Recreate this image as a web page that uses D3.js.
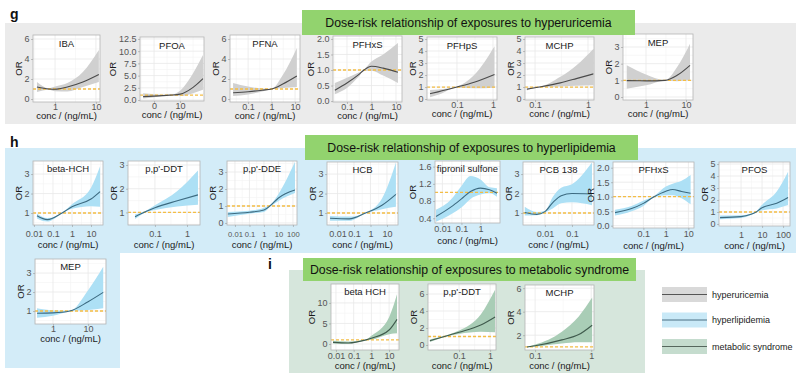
<!DOCTYPE html>
<html>
<head>
<meta charset="utf-8">
<script src="https://cdn.jsdelivr.net/npm/d3@7"></script>
<style>
  body { margin: 0; background: #fff; }
  text { font-family: "Liberation Sans", Arial, sans-serif; }
</style>
</head>
<body>
<svg id="chart" width="800" height="382"></svg>
<script>
// rows are [conc, OR, lower CI, upper CI]
// hyperuricemia
const uIBA = [[0.36, 1.2, 0.7, 1.7], [0.7, 1.0, 0.92, 1.08], [1, 0.97, 0.78, 1.25], [2, 1.2, 0.75, 1.6], [4.8, 1.7, 1.2, 2.7], [11.8, 2.45, 1.7, 4.9]];
const uPFOA = [[-4.2, 0.7, 0.3, 1.4], [0, 0.8, 0.55, 1.2], [6, 1.0, 0.97, 1.03], [10, 1.2, 0.8, 1.9], [15, 2.6, 1.4, 5.5], [18.8, 4.4, 2.1, 9.2]];
const uPFNA = [[0.023, 0.63, 0.3, 1.6], [0.1, 0.73, 0.45, 1.25], [0.4, 0.88, 0.75, 1.05], [1, 1.0, 0.97, 1.03], [3, 1.5, 1.1, 2.4], [11.9, 2.3, 1.2, 5.1]];
const uPFHxS = [[0.032, 0.35, 0.22, 0.58], [0.1, 0.58, 0.42, 0.75], [0.3, 0.85, 0.78, 0.92], [0.5, 1.0, 0.98, 1.02], [1, 1.12, 0.98, 1.27], [3, 1.06, 0.82, 1.5], [12, 0.93, 0.58, 1.87]];
const uPFHpS = [[0.018, 0.45, 0.15, 0.75], [0.03, 0.6, 0.35, 0.8], [0.1, 1.0, 0.95, 1.05], [0.3, 1.4, 0.9, 2.0], [1.1, 2.05, 0.95, 4.4]];
const uMCHP = [[0.07, 0.82, 0.72, 0.93], [0.12, 1.0, 0.98, 1.02], [0.3, 1.35, 1.05, 1.85], [0.6, 1.7, 1.1, 2.8], [1.27, 2.1, 1.15, 4.2]];
const uMEP = [[0.33, 0.98, 0.5, 1.9], [1, 0.97, 0.7, 1.35], [3, 1.0, 0.98, 1.02], [6, 1.3, 0.95, 1.8], [12.6, 1.9, 1.0, 3.2]];

// hyperlipidemia
const lBetaHCH = [[0.0144, 0.86, 0.72, 0.98], [0.05, 0.66, 0.56, 0.74], [0.3, 1.0, 0.98, 1.02], [1, 1.32, 1.22, 1.45], [10, 1.72, 1.35, 2.3], [30, 2.1, 1.32, 3.4]];
const lDDT = [[0.024, 0.82, 0.72, 0.92], [0.05, 1.03, 1.0, 1.06], [0.1, 1.2, 1.1, 1.3], [0.5, 1.49, 1.25, 1.9], [2.2, 1.74, 1.32, 2.77]];
const lDDE = [[0.0032, 0.53, 0.35, 0.65], [0.1, 0.63, 0.55, 0.72], [1, 0.76, 0.65, 0.9], [3, 1.05, 1.0, 1.1], [10, 1.47, 1.3, 1.7], [138, 1.94, 1.76, 3.6]];
const lHCB = [[0.0035, 0.73, 0.6, 0.85], [0.05, 0.7, 0.6, 0.82], [0.5, 1.0, 0.98, 1.02], [5, 1.4, 1.2, 1.75], [35, 1.96, 1.32, 3.6]];
const lFipronil = [[0.0046, 0.44, 0.32, 0.6], [0.03, 0.67, 0.5, 0.85], [0.1, 0.85, 0.65, 1.15], [0.3, 1.02, 0.85, 1.38], [1, 1.1, 0.95, 1.3], [3, 1.06, 0.98, 1.12], [7.4, 0.98, 0.9, 1.1]];
const lPCB138 = [[0.0018, 1.03, 0.87, 1.32], [0.005, 0.93, 0.88, 1.05], [0.01, 1.07, 1.03, 1.1], [0.02, 1.55, 1.25, 1.85], [0.04, 1.89, 1.5, 2.3], [0.1, 2.0, 1.55, 2.48], [0.55, 1.98, 1.4, 3.6]];
const lPFHxS = [[0.0055, 0.45, 0.35, 0.55], [0.03, 0.59, 0.5, 0.68], [0.1, 0.77, 0.68, 0.86], [0.3, 1.0, 0.98, 1.02], [1, 1.19, 1.05, 1.35], [2, 1.25, 1.05, 1.45], [5, 1.18, 0.95, 1.55], [12.6, 1.12, 0.74, 1.75]];
const lPFOS = [[0.1, 0.53, 0.4, 0.7], [1, 0.61, 0.5, 0.72], [3, 0.81, 0.75, 0.88], [5, 0.98, 0.95, 1.02], [10, 1.36, 1.15, 1.6], [50, 1.72, 1.3, 2.7], [173, 2.2, 1.58, 4.35]];
const lMEP = [[0.35, 0.88, 0.65, 1.14], [1, 0.9, 0.75, 1.03], [3, 1.0, 0.98, 1.02], [10, 1.49, 1.05, 2.1], [27, 1.98, 1.14, 3.33]];

// metabolic syndrome
const mBetaHCH = [[0.0068, 0.4, 0.1, 0.8], [0.05, 0.25, 0.05, 0.6], [0.5, 1.0, 0.9, 1.1], [1, 1.4, 1.05, 2.0], [10, 3.4, 2.4, 6.5], [28, 6.0, 2.6, 12.1]];
const mDDT = [[0.0115, 0.5, 0.35, 0.65], [0.05, 1.18, 1.1, 1.26], [0.1, 1.5, 1.3, 1.7], [0.5, 2.35, 1.55, 3.6], [1.45, 3.3, 1.5, 6.5]];
const mMCHP = [[0.072, 1.0, 0.98, 1.02], [0.1, 1.1, 1.03, 1.2], [0.3, 1.6, 1.3, 2.3], [0.6, 2.05, 1.4, 3.6], [1.04, 2.85, 1.4, 5.2]];

const sectionLetters = ['g', 'h', 'i'];
const sectionTitles = [
  'Dose-risk relationship of exposures to hyperuricemia',
  'Dose-risk relationship of exposures to hyperlipidemia',
  'Dose-risk relationship of exposures to metabolic syndrome',
];
const legendLabels = ['hyperuricemia', 'hyperlipidemia', 'metabolic syndrome'];
const xTitle = 'conc / (ng/mL)';

const f1 = d3.format('.1f');

const panels = [
  // g
  { s: 0, name: 'IBA', data: uIBA, box: [33, 35, 100, 102], log: true, xd: [0.288, 12.6], xt: [1, 10], yd: [-0.3, 6.4], yt: [0, 2, 4, 6] },
  { s: 0, name: 'PFOA', data: uPFOA, box: [140, 37, 204, 101], log: false, xd: [-5.4, 19.2], xt: [0, 10], yd: [-0.2, 12.9], yt: [0, 2.5, 5, 7.5, 10, 12.5], yf: f1 },
  { s: 0, name: 'PFNA', data: uPFNA, box: [230, 35, 300, 102], log: true, xd: [0.017, 16.2], xt: [0.1, 1, 10], yd: [-0.3, 6.4], yt: [0, 2, 4, 6] },
  { s: 0, name: 'PFHxS', data: uPFHxS, box: [333, 36, 402, 102], log: true, xd: [0.0269, 17.6], xt: [0.1, 1, 10], yd: [-0.03, 2.095], yt: [0, 0.5, 1, 1.5, 2], yf: f1 },
  { s: 0, name: 'PFHpS', data: uPFHpS, box: [427, 37, 497, 100], log: true, xd: [0.0148, 1.288], xt: [0.1, 1], yd: [-0.08, 5.17], yt: [0, 1, 2, 3, 4, 5] },
  { s: 0, name: 'MCHP', data: uMCHP, box: [525, 37, 594, 100], log: true, xd: [0.0646, 1.297], xt: [0.1, 1], yd: [-0.08, 5.17], yt: [0, 1, 2, 3, 4, 5] },
  { s: 0, name: 'MEP', data: uMEP, box: [623, 34, 693, 100], log: true, xd: [0.266, 14.96], xt: [1, 10], yd: [-0.18, 3.78], yt: [0, 1, 2, 3] },
  // h
  { s: 1, name: 'beta-HCH', data: lBetaHCH, box: [33, 161, 103, 225], log: true, xd: [0.00891, 42.7], xt: [0.01, 0.1, 1, 10], yd: [0.385, 3.67], yt: [1, 2, 3] },
  { s: 1, name: "p,p'-DDT", data: lDDT, box: [128, 161, 200, 225], log: true, xd: [0.01445, 2.547], xt: [0.1, 1], yd: [0.47, 3.17], yt: [1, 2, 3] },
  { s: 1, name: "p,p'-DDE", data: lDDE, box: [227, 161, 297, 225], log: true, xd: [0.00282, 190.5], xt: [0.01, 0.1, 1, 10, 100], yd: [-0.12, 3.65], yt: [0, 1, 2, 3], xfs: 7.6 },
  { s: 1, name: 'HCB', data: lHCB, box: [327, 162, 398, 225], log: true, xd: [0.00229, 46.8], xt: [0.01, 0.1, 1, 10], yd: [0.385, 3.62], yt: [1, 2, 3] },
  { s: 1, name: 'fipronil sulfone', data: lFipronil, box: [435, 161, 500, 223], log: true, xd: [0.00407, 10.7], xt: [0.01, 0.1, 1], yd: [0.29, 1.73], yt: [0.4, 0.8, 1.2, 1.6], yf: f1, tOff: 9, tt: 21 },
  { s: 1, name: 'PCB 138', data: lPCB138, box: [523, 162, 594, 225], log: true, xd: [0.00155, 0.653], xt: [0.01, 0.1], yd: [0.385, 3.62], yt: [1, 2, 3] },
  { s: 1, name: 'PFHxS', data: lPFHxS, box: [613, 162, 694, 228], log: true, xd: [0.00447, 17.8], xt: [0.1, 1, 10], yd: [-0.08, 2.197], yt: [0, 0.5, 1, 1.5, 2], yf: f1, tOff: 9, tt: 20.5 },
  { s: 1, name: 'PFOS', data: lPFOS, box: [719, 162, 790, 226], log: true, xd: [0.0891, 213.8], xt: [1, 10, 100], yd: [-0.17, 5.17], yt: [0, 1, 2, 3, 4, 5] },
  { s: 1, name: 'MEP', data: lMEP, box: [35, 259, 106, 324], log: true, xd: [0.306, 32.4], xt: [1, 10], yd: [0.316, 3.74], yt: [1, 2, 3], tOff: 7.5, tt: 18 },
  // i
  { s: 2, name: 'beta HCH', data: mBetaHCH, box: [331, 284, 399, 350], log: true, xd: [0.00525, 36.3], xt: [0.01, 0.1, 1, 10], yd: [-1.46, 14.6], yt: [0, 5, 10] },
  { s: 2, name: "p,p'-DDT", data: mDDT, box: [428, 284, 496, 350], log: true, xd: [0.01, 1.549], xt: [0.1, 1], yd: [-0.59, 7.18], yt: [0, 2, 4, 6] },
  { s: 2, name: 'MCHP', data: mMCHP, box: [525, 285, 594, 350], log: true, xd: [0.0661, 1.122], xt: [0.1, 1], yd: [0.74, 6.27], yt: [2, 4, 6] },
];

// per-section styling
const sections = [
  { ribbon: '#d0d0d0', line: '#4a4a4a', tOff: 7.5, tt: 17, titleY: 12 },
  { ribbon: '#ade0f5', line: '#3c6a80', tOff: 11.5, tt: 23, titleY: 11 },
  { ribbon: '#a9cdb6', line: '#3f5a4c', tOff: 8.5, tt: 18.5, titleY: 10.5 },
];

const svg = d3.select('#chart');

// Backgrounds
svg.append('rect').attr('x', 5).attr('y', 23).attr('width', 791).attr('height', 101).attr('fill', '#ebebeb');
svg.append('path').attr('d', 'M5,148H796V253H120V368H5Z').attr('fill', '#d3ecf8');
svg.append('rect').attr('x', 289).attr('y', 270).attr('width', 356).attr('height', 103).attr('fill', '#d6e6dc');

// Section letters
[[10, 19], [10, 147], [268, 269]].forEach((p, i) => {
  svg.append('text').attr('x', p[0]).attr('y', p[1])
    .attr('font-size', 14).attr('font-weight', 'bold').attr('fill', '#111')
    .text(sectionLetters[i]);
});

let clipId = 0;

function drawPanel(p) {
  const sec = sections[p.s];
  const [x0, y0, x1, y1] = p.box;
  const x = (p.log ? d3.scaleLog() : d3.scaleLinear()).domain(p.xd).range([x0, x1]);
  const y = d3.scaleLinear().domain(p.yd).range([y1, y0]);
  const g = svg.append('g');
  const id = 'clip' + clipId++;
  g.append('clipPath').attr('id', id)
    .append('rect').attr('x', x0).attr('y', y0).attr('width', x1 - x0).attr('height', y1 - y0);

  g.append('rect').attr('x', x0).attr('y', y0).attr('width', x1 - x0).attr('height', y1 - y0)
    .attr('fill', '#fff');

  // Grid (major at ticks, minor halfway)
  const grid = g.append('g').attr('clip-path', `url(#${id})`);
  const minors = (arr, lo, hi) => {
    const step = arr[1] - arr[0];
    return arr.map((v) => v - step / 2).concat([arr[arr.length - 1] + step / 2])
      .filter((v) => v > lo && v < hi);
  };
  const xt = p.xt.map((v) => x(v));
  const yt = p.yt.map((v) => y(v));
  minors(xt, x0, x1).forEach((v) => grid.append('line').attr('x1', v).attr('x2', v).attr('y1', y0).attr('y2', y1).attr('stroke', '#f3f3f3').attr('stroke-width', 0.6));
  minors(yt, y0, y1).forEach((v) => grid.append('line').attr('x1', x0).attr('x2', x1).attr('y1', v).attr('y2', v).attr('stroke', '#f3f3f3').attr('stroke-width', 0.6));
  xt.forEach((v) => grid.append('line').attr('x1', v).attr('x2', v).attr('y1', y0).attr('y2', y1).attr('stroke', '#e8e8e8').attr('stroke-width', 0.8));
  yt.forEach((v) => grid.append('line').attr('x1', x0).attr('x2', x1).attr('y1', v).attr('y2', v).attr('stroke', '#e8e8e8').attr('stroke-width', 0.8));

  const plot = g.append('g').attr('clip-path', `url(#${id})`);

  // Confidence ribbon
  const area = d3.area()
    .x((d) => x(d[0])).y0((d) => y(d[2])).y1((d) => y(d[3]))
    .curve(d3.curveMonotoneX);
  plot.append('path').datum(p.data).attr('d', area).attr('fill', sec.ribbon);

  // Reference OR = 1
  plot.append('line').attr('x1', x0).attr('x2', x1).attr('y1', y(1)).attr('y2', y(1))
    .attr('stroke', '#f4bd45').attr('stroke-width', 1.3).attr('stroke-dasharray', '3,2');

  const line = d3.line().x((d) => x(d[0])).y((d) => y(d[1])).curve(d3.curveMonotoneX);
  plot.append('path').datum(p.data).attr('d', line)
    .attr('fill', 'none').attr('stroke', sec.line).attr('stroke-width', 1.1);

  // Border
  g.append('rect').attr('x', x0).attr('y', y0).attr('width', x1 - x0).attr('height', y1 - y0)
    .attr('fill', 'none').attr('stroke', '#b5b5b5').attr('stroke-width', 0.8);

  // Panel title
  g.append('text').attr('x', (x0 + x1) / 2).attr('y', y0 + sec.titleY)
    .attr('text-anchor', 'middle').attr('font-size', 9.5).attr('fill', '#1a1a1a')
    .text(p.name);

  // Axes
  const yAxis = g.append('g').attr('transform', `translate(${x0},0)`)
    .call(d3.axisLeft(y).tickValues(p.yt).tickFormat(p.yf || d3.format('d')).tickSize(2).tickPadding(1.5));
  const xAxis = g.append('g').attr('transform', `translate(0,${y1})`)
    .call(d3.axisBottom(x).tickValues(p.xt).tickFormat(d3.format('~g')).tickSize(2));
  [yAxis, xAxis].forEach((a) => {
    a.select('.domain').remove();
    a.selectAll('.tick line').attr('stroke', '#9a9a9a').attr('stroke-width', 0.6);
    a.selectAll('.tick text').attr('fill', '#555').attr('font-size', 9)
      .attr('font-family', '"Liberation Sans", Arial, sans-serif');
  });
  const tOff = p.tOff != null ? p.tOff : sec.tOff;
  const tt = p.tt != null ? p.tt : sec.tt;
  xAxis.selectAll('.tick text').attr('y', tOff).attr('dy', 0).attr('font-size', p.xfs || 9);

  let maxW = 0;
  yAxis.selectAll('.tick text').each(function () {
    maxW = Math.max(maxW, this.getComputedTextLength());
  });

  g.append('text').attr('x', (x0 + x1) / 2).attr('y', y1 + tt)
    .attr('text-anchor', 'middle').attr('font-size', 9.5).attr('fill', '#1a1a1a')
    .text(xTitle);

  g.append('text')
    .attr('transform', `translate(${x0 - 3.5 - maxW - 2.5},${(y0 + y1) / 2}) rotate(-90)`)
    .attr('text-anchor', 'middle').attr('font-size', 9.5).attr('fill', '#1a1a1a')
    .text('OR');
}

panels.forEach(drawPanel);

// Section title boxes (drawn on top)
[[302, 10, 333, 25], [305, 135, 333, 25], [303, 258, 333, 23]].forEach((b, i) => {
  svg.append('rect').attr('x', b[0]).attr('y', b[1]).attr('width', b[2]).attr('height', b[3])
    .attr('fill', '#92d36e');
  svg.append('text').attr('x', b[0] + b[2] / 2).attr('y', b[1] + b[3] / 2 + 4.3)
    .attr('text-anchor', 'middle').attr('font-size', 12.3).attr('fill', '#111')
    .text(sectionTitles[i]);
});

// Legend
const legendFill = ['#d9d9d9', '#c9e9f7', '#c5dcce'];
const legendLine = ['#555', '#4a6f82', '#56675d'];
const legendY = [294.5, 320, 346.5];
legendLabels.forEach((lab, i) => {
  svg.append('rect').attr('x', 662).attr('y', legendY[i] - 7.5).attr('width', 45).attr('height', 15)
    .attr('fill', legendFill[i]);
  svg.append('line').attr('x1', 662).attr('x2', 707).attr('y1', legendY[i]).attr('y2', legendY[i])
    .attr('stroke', legendLine[i]).attr('stroke-width', 1);
  svg.append('text').attr('x', 712).attr('y', legendY[i] + 3.2)
    .attr('font-size', 9).attr('fill', '#222').text(lab);
});
</script>
</body>
</html>
